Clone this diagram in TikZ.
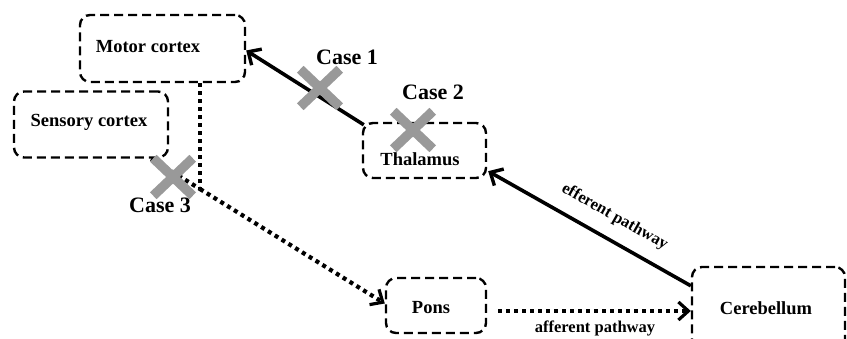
\documentclass[tikz,border=0pt]{standalone}
\usepackage{fontspec}
\setmainfont{Liberation Serif}
\usetikzlibrary{arrows.meta,calc,shapes.misc}
\definecolor{xgray}{HTML}{999999}
\tikzset{
  box/.style={draw, dash pattern=on 9pt off 5pt, line width=2.4pt, rounded corners=10pt, inner sep=0pt},
  lbl/.style={font=\fontsize{18.5}{20}\selectfont\bfseries, inner sep=0pt},
  caselbl/.style={font=\fontsize{22}{24}\selectfont\bfseries, inner sep=0pt},
  pathlbl/.style={font=\fontsize{16.5}{18}\selectfont\bfseries, inner sep=0pt},
  solidarr/.style={line width=3.6pt, -{Straight Barb[length=10pt,width=19pt,line width=3.4pt]}},
  dotline/.style={line width=4.2pt, dash pattern=on 4pt off 4pt},
  dotarr/.style={dotline, -{Straight Barb[length=10pt,width=18pt,line width=3.2pt]}},
  xmark/.style={cross out, draw=xgray, line width=9.5pt, minimum width=30pt, minimum height=28pt, inner sep=0pt}
}
\begin{document}
\begin{tikzpicture}[x=1pt,y=-1pt]
\useasboundingbox (0,0) rectangle (847,339);
% boxes
\node[box, minimum width=165pt, minimum height=67pt] (motor) at (162.5,48.5) {};
\node[box, minimum width=154pt, minimum height=66pt] (sens) at (91,124.5) {};
\node[box, minimum width=123pt, minimum height=55pt] (thal) at (424.5,150.5) {};
\node[box, minimum width=100pt, minimum height=55pt] (pons) at (436,305.5) {};
\node[box, minimum width=153pt, minimum height=86pt] (cereb) at (768.5,310) {};
% box texts
\node[lbl] (motorT) at (148,47) {Motor cortex};
\node[lbl] (sensT) at (89,122) {Sensory cortex};
\node[lbl] (thalT) at (420,159) {Thalamus};
\node[lbl] (ponsT) at (431,308) {Pons};
\node[lbl] (cerebT) at (766,308) {Cerebellum};
% solid connectors
\draw[solidarr] ($(thal.north west)+(2,3)$) -- ($(motor.east)+(0,2)$);
\draw[solidarr] ($(cereb.north west)+(0,20)$) -- node[pos=0.43, sloped, above=13pt, pathlbl] (eff) {efferent pathway} ($(thal.south east)+(1,-8)$);
% dotted connectors
\coordinate (j3) at (200,189);
\draw[dotline] (motor.south -| j3) -- (j3);
\draw[dotline] ($(sens.south east)+(-18,0)$) -- (j3);
\draw[dotarr] (j3) -- ($(pons.west)+(0,-2)$);
\coordinate (pa) at ($(pons.east)+(11,5.5)$);
\draw[dotarr] (pa) -- (pa -| cereb.west);
\node[pathlbl] (aff) at (595,328) {afferent pathway};
% crosses
\node[xmark] (c1) at (320,88) {};
\node[xmark] (c2) at (413,130) {};
\node[xmark] (c3) at (173,177) {};
\node[caselbl] (case1) at (347,57) {Case 1};
\node[caselbl] (case2) at (433,92) {Case 2};
\node[caselbl] (case3) at (160,205) {Case 3};
\end{tikzpicture}
\end{document}
